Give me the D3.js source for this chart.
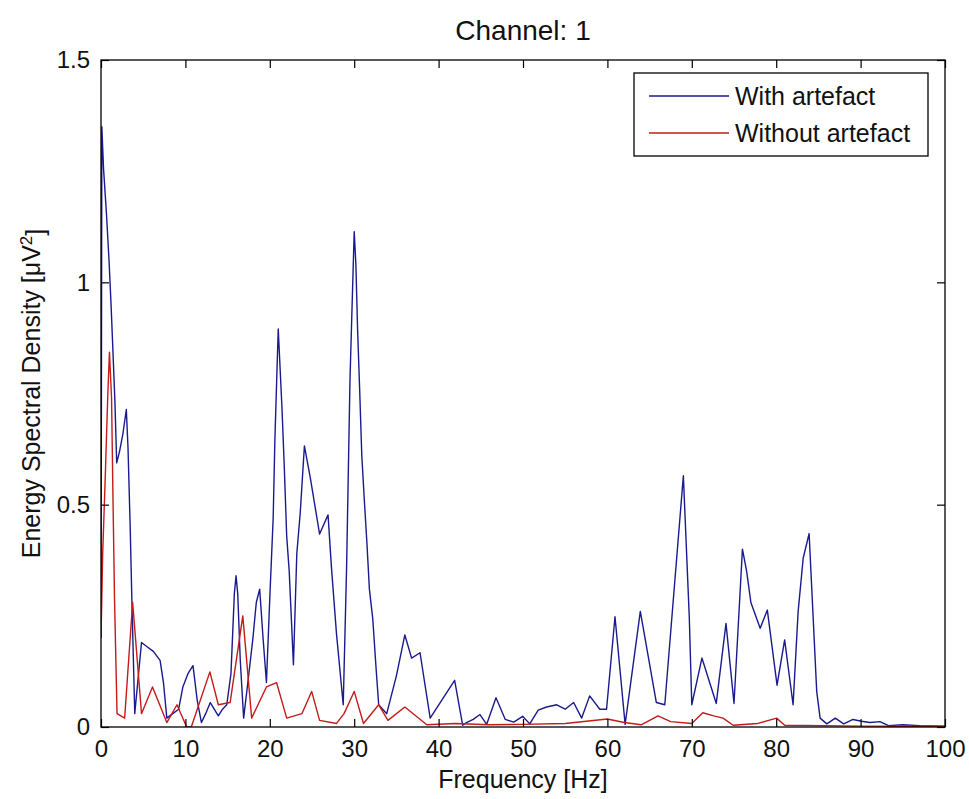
<!DOCTYPE html>
<html>
<head>
<meta charset="utf-8">
<script src="https://cdn.jsdelivr.net/npm/d3@7/dist/d3.min.js"></script>
<style>
  body { margin: 0; background: #fff; }
  text { font-family: "Liberation Sans", Arial, sans-serif; fill: #111; }
</style>
</head>
<body>
<div id="chart"></div>
<script>
var withArtefact = [
    [0, 0.2], [0.1, 1.35], [0.3, 1.256], [0.65, 1.153], [0.95, 1.05], [1.2, 0.946],
    [1.4, 0.852], [1.65, 0.731], [1.86, 0.594], [2.2, 0.62], [2.6, 0.66], [3.0, 0.714],
    [3.2, 0.628], [3.45, 0.456], [3.65, 0.292], [4.0, 0.03], [4.8, 0.19], [5.5, 0.18],
    [6.2, 0.17], [7.0, 0.15], [7.4, 0.1], [7.8, 0.02], [8.5, 0.03], [9.2, 0.04],
    [9.7, 0.09], [10.3, 0.12], [10.9, 0.138], [11.4, 0.06], [11.9, 0.01], [12.4, 0.03],
    [12.95, 0.055], [13.9, 0.025], [14.4, 0.04], [14.9, 0.05], [15.4, 0.12], [15.8, 0.3],
    [16.0, 0.34], [16.2, 0.3], [16.5, 0.15], [16.9, 0.02], [17.4, 0.1], [18.0, 0.2],
    [18.4, 0.28], [18.8, 0.31], [19.2, 0.2], [19.6, 0.1], [20.0, 0.29], [20.4, 0.47],
    [20.6, 0.645], [21.0, 0.895], [21.45, 0.714], [21.7, 0.593], [22.0, 0.43], [22.3, 0.35],
    [22.8, 0.14], [23.2, 0.39], [23.6, 0.48], [24.1, 0.632], [24.8, 0.56], [25.9, 0.434],
    [26.9, 0.477], [27.3, 0.36], [27.9, 0.21], [28.3, 0.13], [28.7, 0.05], [29.1, 0.36],
    [29.3, 0.57], [29.5, 0.78], [30.0, 1.114], [30.2, 1.04], [30.4, 0.895], [30.65, 0.757],
    [30.9, 0.61], [31.2, 0.51], [31.5, 0.416], [31.8, 0.31], [32.2, 0.243], [32.6, 0.13],
    [32.9, 0.05], [33.85, 0.03], [35.0, 0.115], [36.0, 0.207], [36.8, 0.155], [37.8, 0.167],
    [39.0, 0.02], [41.9, 0.105], [42.85, 0.004], [43.3, 0.01], [44.1, 0.017], [44.9, 0.028],
    [45.7, 0.006], [46.8, 0.066], [47.9, 0.017], [48.9, 0.011], [49.96, 0.024], [50.8, 0.007],
    [51.8, 0.038], [52.8, 0.045], [54.0, 0.05], [55.0, 0.04], [56.0, 0.055], [56.95, 0.02],
    [57.9, 0.07], [59.1, 0.04], [59.9, 0.04], [60.9, 0.248], [62.1, 0.006], [63.9, 0.26],
    [65.8, 0.055], [66.8, 0.05], [69.0, 0.565], [69.7, 0.248], [70.0, 0.05], [71.2, 0.155],
    [72.9, 0.053], [74.05, 0.233], [75.0, 0.053], [76.0, 0.40], [76.5, 0.35], [77.0, 0.28],
    [78.1, 0.222], [78.95, 0.263], [80.1, 0.094], [81.0, 0.196], [82.0, 0.05], [82.6, 0.26],
    [83.2, 0.38], [83.9, 0.435], [84.8, 0.08], [85.2, 0.02], [86.0, 0.007], [87.0, 0.02],
    [88.0, 0.007], [89.1, 0.017], [90.1, 0.013], [91.1, 0.01], [92.3, 0.012], [93.3, 0.003],
    [95, 0.005], [97, 0.003], [100, 0.002]
];

var withoutArtefact = [
    [0, 0.2], [0.2, 0.39], [0.5, 0.56], [0.8, 0.744], [1.0, 0.843], [1.25, 0.74],
    [1.4, 0.54], [1.6, 0.29], [1.9, 0.03], [2.8, 0.02], [3.75, 0.28], [4.8, 0.03],
    [6.1, 0.09], [7.8, 0.01], [9.0, 0.05], [10.15, 0.0], [10.7, 0.0], [12.9, 0.124],
    [13.9, 0.05], [15.3, 0.055], [16.8, 0.25], [17.85, 0.02], [19.6, 0.09], [20.8, 0.1],
    [22.0, 0.02], [23.8, 0.03], [24.96, 0.08], [25.9, 0.015], [27.9, 0.008], [28.8, 0.03],
    [30.0, 0.08], [31.1, 0.008], [32.9, 0.05], [34.0, 0.015], [36.0, 0.045], [38.6, 0.005],
    [42, 0.008], [46, 0.005], [50, 0.006], [55, 0.008], [60, 0.018], [62, 0.01],
    [64, 0.005], [66, 0.025], [67.5, 0.012], [70, 0.008], [71.3, 0.032], [72.6, 0.025],
    [73.7, 0.02], [74.9, 0.004], [77.8, 0.008], [80.05, 0.02], [81, 0.004], [90, 0.002],
    [100, 0.001]
];

var xTicks = [0, 10, 20, 30, 40, 50, 60, 70, 80, 90, 100];
var yTicks = [0, 0.5, 1, 1.5];
var seriesNames = ["With artefact", "Without artefact"];
var seriesColors = ["#1a1a8e", "#c41a1a"];

(function() {
    var width = 969,
        height = 799,
        margin = { top: 60, right: 24, bottom: 72, left: 101 },
        w = width - margin.left - margin.right,
        h = height - margin.top - margin.bottom;

    var svg = d3.select("#chart")
        .append("svg")
        .attr("width", width)
        .attr("height", height);

    svg.append("rect")
        .attr("width", width)
        .attr("height", height)
        .attr("fill", "#fff");

    var g = svg.append("g")
        .attr("transform", "translate(" + margin.left + "," + margin.top + ")");

    var x = d3.scaleLinear().domain([0, 100]).range([0, w]);
    var y = d3.scaleLinear().domain([0, 1.5]).range([h, 0]);

    g.append("clipPath").attr("id", "plot-clip")
        .append("rect").attr("width", w).attr("height", h);

    var line = d3.line()
        .x(function(d) { return x(d[0]); })
        .y(function(d) { return y(d[1]); });

    [withArtefact, withoutArtefact].forEach(function(series, i) {
        g.append("path")
            .datum(series)
            .attr("clip-path", "url(#plot-clip)")
            .attr("fill", "none")
            .attr("stroke", seriesColors[i])
            .attr("stroke-width", 1.4)
            .attr("stroke-linejoin", "round")
            .attr("d", line);
    });

    function styleAxis(sel) {
        sel.select(".domain").remove();
        sel.selectAll("line").attr("stroke", "#000").attr("stroke-width", 1.2);
        sel.selectAll("text")
            .style("font-family", "'Liberation Sans', Arial, sans-serif")
            .style("font-size", "24px")
            .attr("fill", "#222");
    }

    g.append("g")
        .attr("transform", "translate(0," + h + ")")
        .call(d3.axisBottom(x).tickValues(xTicks).tickSize(-8).tickSizeOuter(0).tickPadding(13))
        .call(styleAxis);

    g.append("g")
        .call(d3.axisTop(x).tickValues(xTicks).tickSize(-8).tickSizeOuter(0).tickFormat(""))
        .call(styleAxis);

    g.append("g")
        .call(d3.axisLeft(y).tickValues(yTicks).tickSize(-8).tickSizeOuter(0).tickPadding(11)
            .tickFormat(d3.format("")))
        .call(styleAxis);

    g.append("g")
        .attr("transform", "translate(" + w + ",0)")
        .call(d3.axisRight(y).tickValues(yTicks).tickSize(-8).tickSizeOuter(0).tickFormat(""))
        .call(styleAxis);

    // axes box
    g.append("rect")
        .attr("width", w)
        .attr("height", h)
        .attr("fill", "none")
        .attr("stroke", "#000")
        .attr("stroke-width", 1.3);

    // title and labels
    svg.append("text")
        .attr("x", margin.left + w / 2)
        .attr("y", 40)
        .attr("text-anchor", "middle")
        .style("font-size", "28px")
        .text("Channel: 1");

    svg.append("text")
        .attr("x", margin.left + w / 2)
        .attr("y", 788)
        .attr("text-anchor", "middle")
        .style("font-size", "25px")
        .text("Frequency [Hz]");

    var yLabel = svg.append("text")
        .attr("transform", "translate(40," + (margin.top + h / 2) + ") rotate(-90)")
        .attr("text-anchor", "middle")
        .style("font-size", "25px");
    yLabel.append("tspan").text("Energy Spectral Density [\u03bcV");
    yLabel.append("tspan").attr("dy", "-0.45em").style("font-size", "17px").text("2");
    yLabel.append("tspan").attr("dy", "0.45em").text("]");

    // legend
    var legend = g.append("g")
        .attr("transform", "translate(" + (634 - margin.left) + "," + (73 - margin.top) + ")");

    legend.append("rect")
        .attr("width", 294)
        .attr("height", 83)
        .attr("fill", "#fff")
        .attr("stroke", "#000")
        .attr("stroke-width", 1.3);

    var entry = legend.selectAll(".entry")
        .data(seriesNames)
        .enter().append("g")
        .attr("class", "entry")
        .attr("transform", function(d, i) { return "translate(0," + (23 + i * 37) + ")"; });

    entry.append("line")
        .attr("x1", 15)
        .attr("x2", 95)
        .attr("stroke", function(d, i) { return seriesColors[i]; })
        .attr("stroke-width", 1.4);

    entry.append("text")
        .attr("x", 101)
        .attr("dy", "0.35em")
        .style("font-size", "25px")
        .text(function(d) { return d; });
})();
</script>
</body>
</html>
